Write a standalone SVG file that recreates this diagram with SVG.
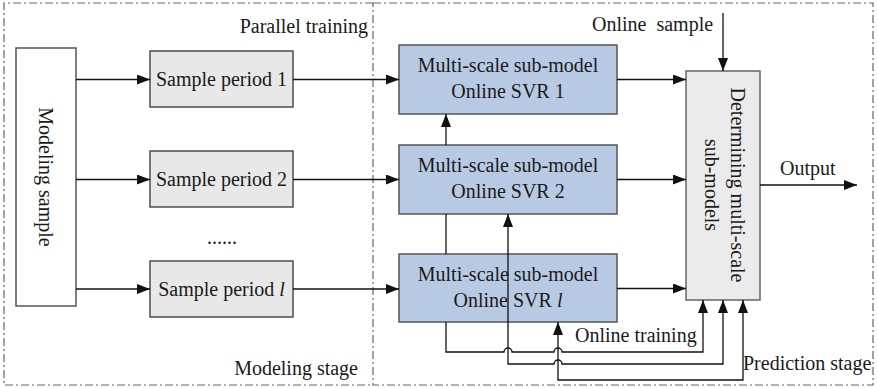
<svg xmlns="http://www.w3.org/2000/svg" width="877" height="388" viewBox="0 0 877 388">
<style>
text{font-family:"Liberation Serif","Times New Roman",serif;font-size:20px;fill:#1a1a1a}
.c{text-anchor:middle}
.stage{fill:none;stroke:#666;stroke-width:1.2;stroke-dasharray:8 3 2 3}
.plain{fill:#fff;stroke:#555;stroke-width:1.5}
.sp{fill:#e8e8e8;stroke:#333;stroke-width:1.3}
.svr{fill:#b8cae3;stroke:#555;stroke-width:1.5}
.det{fill:#ebebeb;stroke:#666;stroke-width:1.5}
.ln{fill:none;stroke:#111;stroke-width:1.3}
.arr{marker-end:url(#ah)}
.both{marker-start:url(#ah);marker-end:url(#ah)}
</style>
<defs>
<marker id="ah" markerUnits="userSpaceOnUse" markerWidth="13" markerHeight="10" refX="13" refY="5" orient="auto-start-reverse" viewBox="0 0 13 10">
<path d="M0,0 L13,5 L0,10 z" fill="#111"/>
</marker>
</defs>
<g id="stages">
<path class="stage" d="M373,3 H4 V385 H373"/>
<path class="stage" d="M373,3 H873 V385 H373 Z"/>
<text x="368" y="33" style="text-anchor:end">Parallel training</text>
<text x="358" y="375" style="text-anchor:end">Modeling stage</text>
<text x="743" y="370">Prediction stage</text>
</g>
<g id="modeling-sample">
<rect class="plain" x="16" y="48" width="60" height="258"/>
<text class="c" transform="translate(46,177) rotate(90)" y="7">Modeling sample</text>
</g>
<g id="sample-period-1">
<rect class="sp" x="150" y="51" width="143" height="56"/>
<text class="c" x="221.5" y="86">Sample period 1</text>
</g>
<g id="sample-period-2">
<rect class="sp" x="150" y="151" width="143" height="56"/>
<text class="c" x="221.5" y="186">Sample period 2</text>
</g>
<g id="dots">
<text x="207" y="244">......</text>
</g>
<g id="sample-period-l">
<rect class="sp" x="150" y="261" width="143" height="56"/>
<text class="c" x="221.5" y="296">Sample period <tspan font-style="italic">l</tspan></text>
</g>
<g id="svr-1">
<rect class="svr" x="399" y="45" width="218" height="69"/>
<text class="c" x="508" y="72">Multi-scale sub-model</text>
<text class="c" x="508" y="98">Online SVR 1</text>
</g>
<g id="svr-2">
<rect class="svr" x="399" y="145" width="218" height="69"/>
<text class="c" x="508" y="172">Multi-scale sub-model</text>
<text class="c" x="508" y="198">Online SVR 2</text>
</g>
<g id="svr-l">
<rect class="svr" x="399" y="254" width="218" height="68"/>
<text class="c" x="508" y="281">Multi-scale sub-model</text>
<text class="c" x="508" y="307">Online SVR <tspan font-style="italic">l</tspan></text>
</g>
<g id="determining">
<rect class="det" x="686" y="71" width="74" height="229"/>
<g transform="translate(723,185) rotate(90)">
<text class="c" x="0" y="-8">Determining multi-scale</text>
<text class="c" x="0" y="18">sub-models</text>
</g>
</g>
<g id="connectors">
<path class="ln arr" d="M76,79.5 H150"/>
<path class="ln arr" d="M76,179.5 H150"/>
<path class="ln arr" d="M76,289 H150"/>
<path class="ln arr" d="M293,79.5 H399"/>
<path class="ln arr" d="M293,179.5 H399"/>
<path class="ln arr" d="M293,289 H399"/>
<path class="ln arr" d="M617,79.5 H686"/>
<path class="ln arr" d="M617,179.5 H686"/>
<path class="ln arr" d="M617,288.5 H686"/>
<path class="ln arr" d="M723,13 V71"/>
<path class="ln arr" d="M760,185 H857"/>
<path class="ln arr" d="M446,145 V114"/>
<path class="ln" d="M446,254 V214"/>
<path class="ln arr" d="M446,322 V352 H504 A4,4 0 0 1 512,352 H554 A4,4 0 0 1 562,352 H703 V300"/>
<path class="ln both" d="M508,214 V364 H554 A4,4 0 0 1 562,364 H723 V300"/>
<path class="ln both" d="M558,322 V380 H743 V300"/>
<text x="592" y="31" xml:space="preserve">Online  sample</text>
<text x="780" y="175">Output</text>
<text x="575" y="342">Online training</text>
</g>
</svg>
